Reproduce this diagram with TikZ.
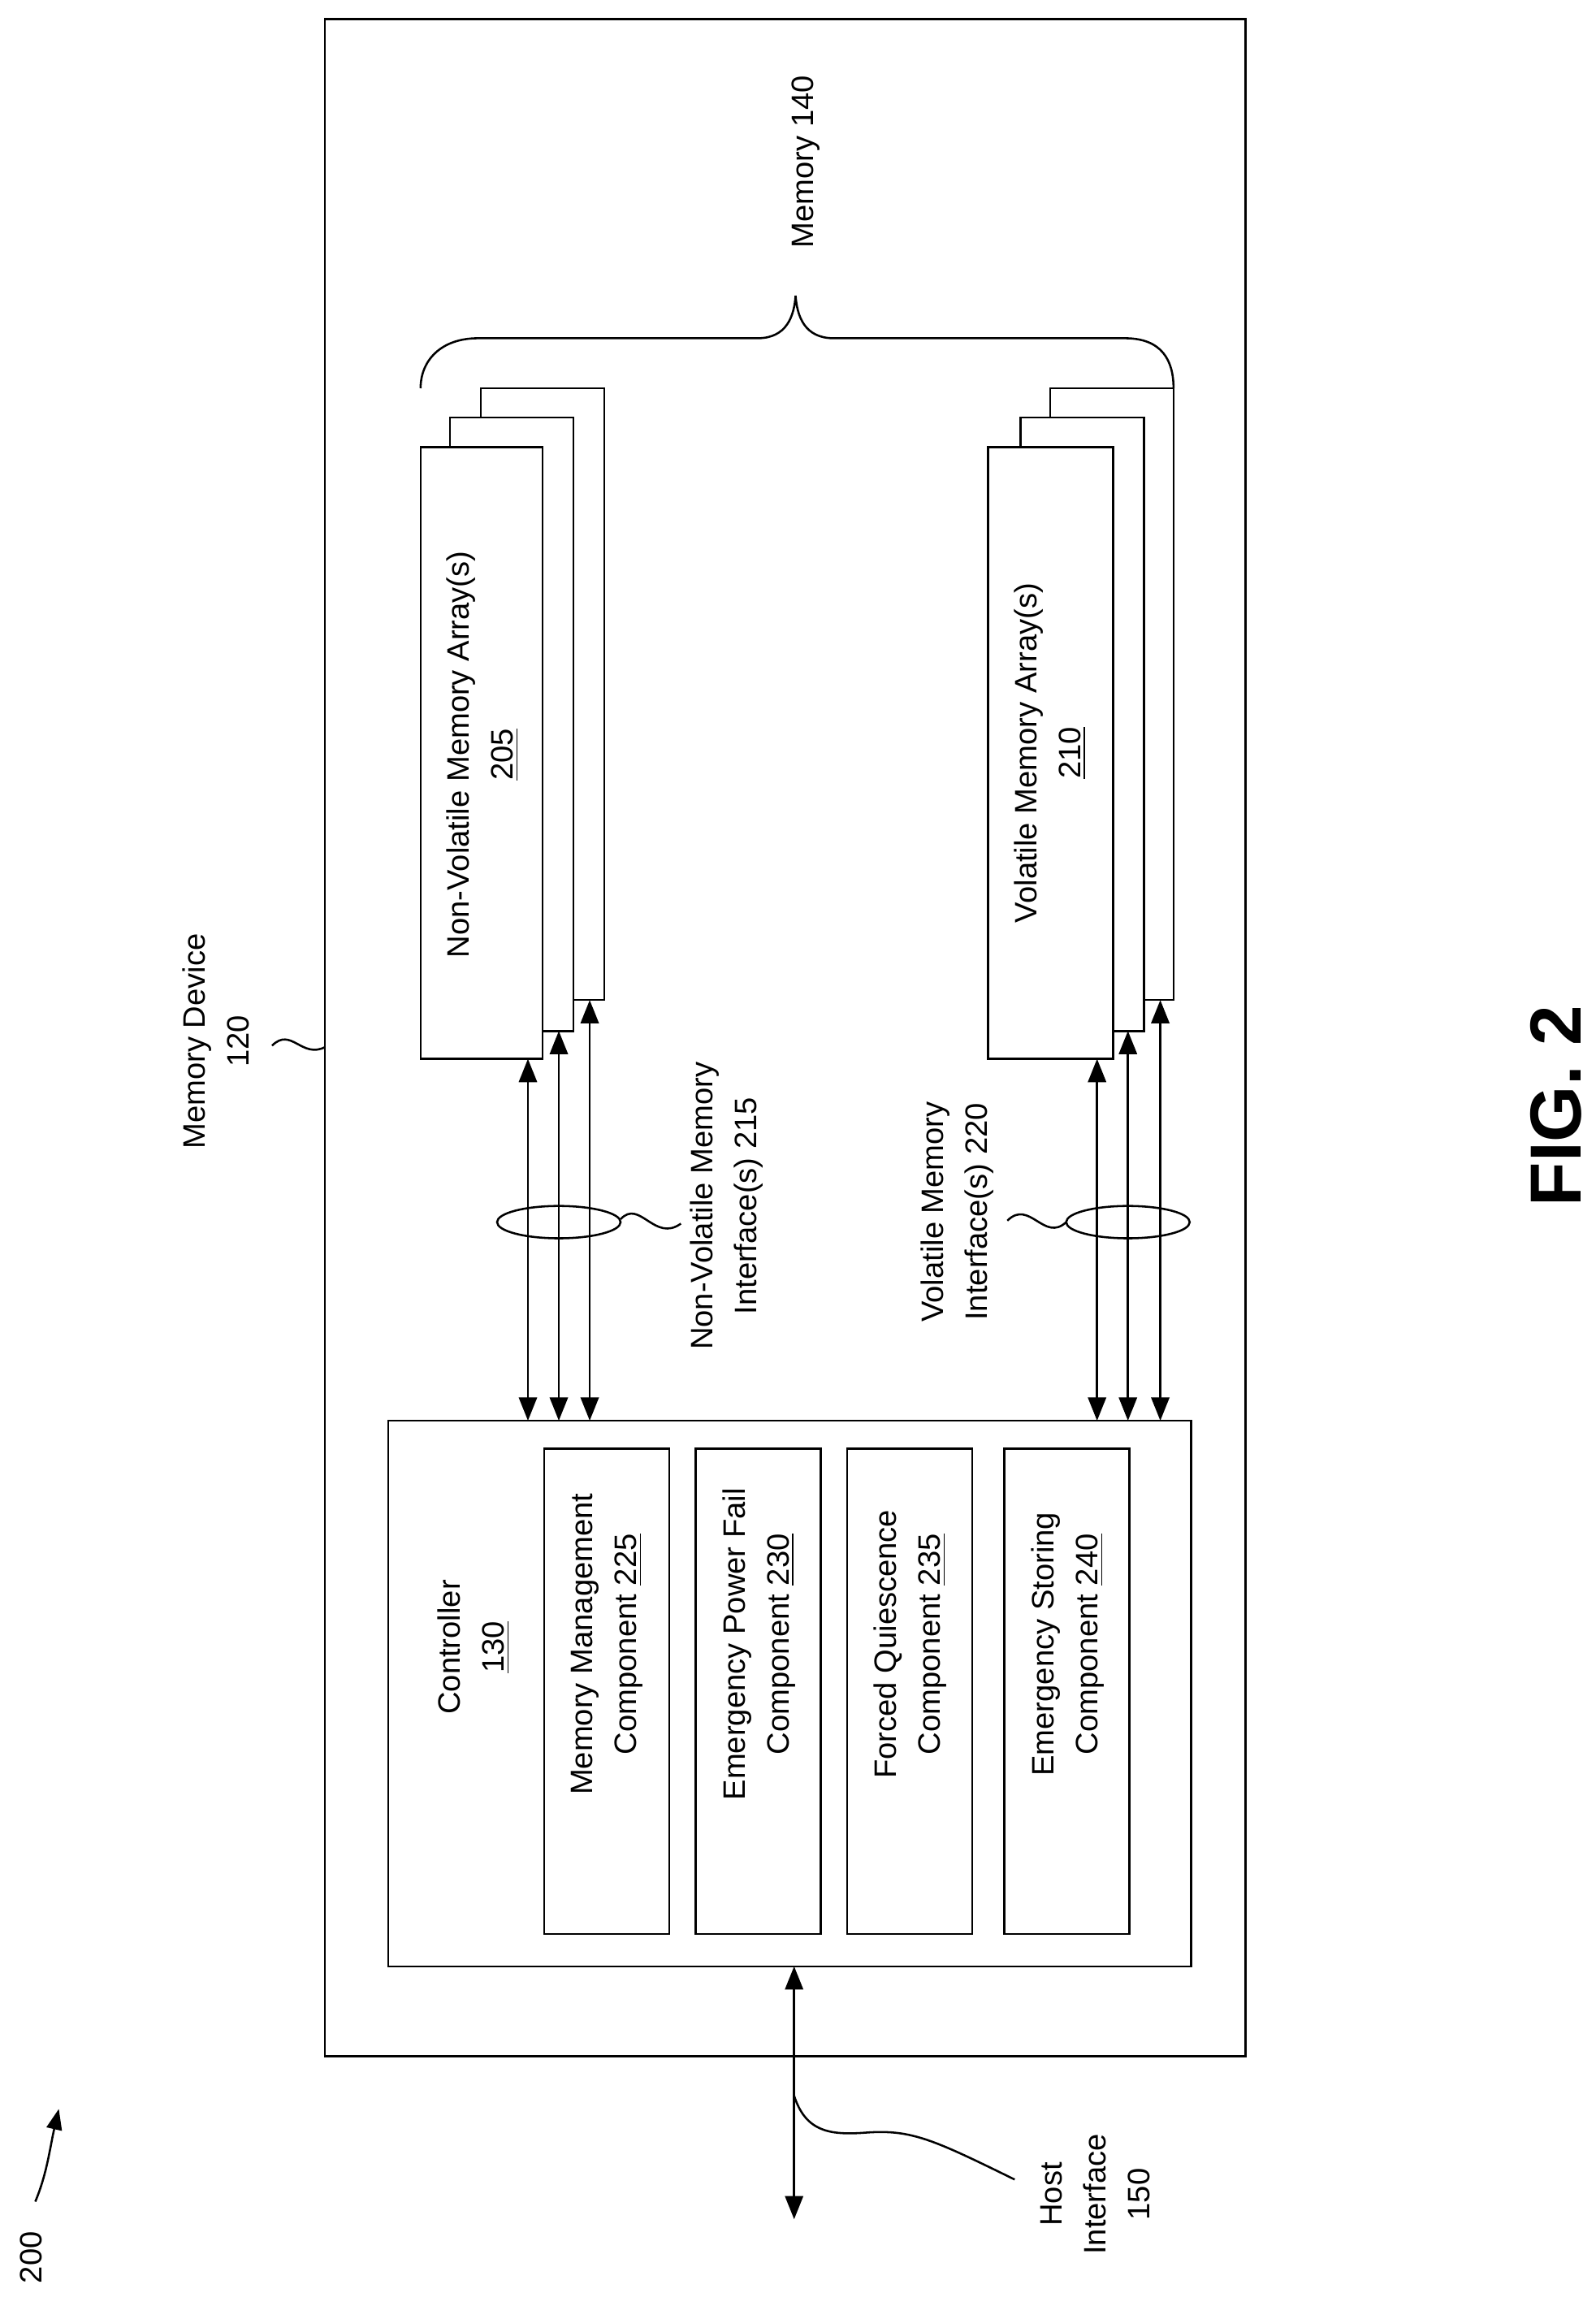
\documentclass[tikz,border=0pt]{standalone}
\usepackage{fontspec}
\setmainfont{Liberation Sans}
\usetikzlibrary{arrows.meta}
\begin{document}
\begin{tikzpicture}[x=0.2mm,y=-0.2mm,line width=0.8pt,
  box/.style={draw,fill=white},
  lbl/.style={rotate=90,align=center,font=\fontsize{12}{17}\selectfont},
  dar/.style={{Triangle[width=7pt,length=9pt]}-{Triangle[width=7pt,length=9pt]}}]
\useasboundingbox (0,0) rectangle (1085,1568);
% outer
\draw (221,13) rectangle (847,1398);
\node[lbl] (mdl) at (147,708) {Memory Device\\120};
\draw (185,711) .. controls (198,698) and (205,720) .. (221,712);
% memory arrays
\draw[box] (327,264) rectangle (411,680);
\draw[box] (306,284) rectangle (390,701);
\draw[box] (286,304) rectangle (369,720);
\node[lbl] (nv) at (328,513) {Non-Volatile Memory Array(s)\\\underline{205}};
\draw[box] (714,264) rectangle (798,680);
\draw[box] (694,284) rectangle (778,701);
\draw[box] (672,304) rectangle (757,720);
\node[lbl] (v) at (714,512) {Volatile Memory Array(s)\\\underline{210}};
% brace
\draw (286,264) .. controls (286,245) and (300,230) .. (325,230) -- (515,230) .. controls (535,230) and (540,215) .. (541,201)
      .. controls (542,215) and (547,230) .. (567,230) -- (765,230) .. controls (790,230) and (798,245) .. (798,264);
\node[lbl] (m140) at (548,110) {Memory 140};
% controller
\draw (264,966) rectangle (810,1337);
\node[lbl] (ctl) at (322,1120) {Controller\\\underline{130}};
\draw (370,985) rectangle (455,1315);
\node[lbl] at (413,1118) {Memory Management\\Component \underline{225}};
\draw (473,985) rectangle (558,1315);
\node[lbl] at (516,1118) {Emergency Power Fail\\Component \underline{230}};
\draw (576,985) rectangle (661,1315);
\node[lbl] at (619,1118) {Forced Quiescence\\Component \underline{235}};
\draw (683,985) rectangle (768,1315);
\node[lbl] at (726,1118) {Emergency Storing\\Component \underline{240}};
% interface arrows
\foreach \x/\y in {359/720,380/701,401/680,746/720,767/701,789/680}
  \draw[dar] (\x,966) -- (\x,\y);
\draw (380,831) ellipse [x radius=42, y radius=11];
\draw (767,831) ellipse [x radius=42, y radius=11];
\draw (422,829) .. controls (435,815) and (445,845) .. (463,832);
\node[lbl] (nvi) at (494,820) {Non-Volatile Memory\\Interface(s) 215};
\draw (725,831) .. controls (710,845) and (700,815) .. (685,830);
\node[lbl] (vi) at (651,824) {Volatile Memory\\Interface(s) 220};
% host
\draw[dar] (540,1337) -- (540,1509);
\draw (540,1425) .. controls (548,1450) and (565,1452) .. (590,1450) .. controls (620,1448) and (635,1455) .. (690,1482);
\node[lbl] (host) at (745,1492) {Host\\Interface\\150};
% 200
\node[lbl] (n200) at (21,1535) {200};
\draw[-{Triangle[width=6pt,length=8pt]}] (24,1497) .. controls (32,1478) and (34,1460) .. (40,1434);
% fig
\node[rotate=90,font=\bfseries\fontsize{28}{30}\selectfont] at (1058,752) {FIG. 2};
\end{tikzpicture}
\end{document}
